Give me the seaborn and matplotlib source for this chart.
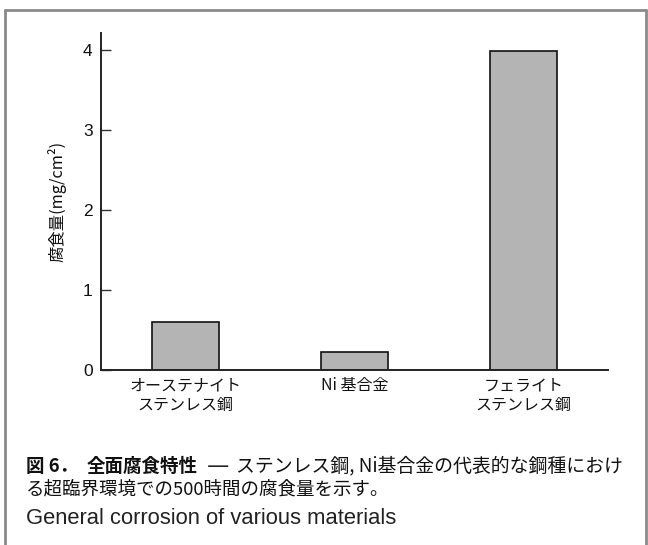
import matplotlib
matplotlib.use("Agg")
import matplotlib.pyplot as plt
import seaborn as sns
import pandas as pd
from matplotlib.lines import Line2D

categories = ["オーステナイト\nステンレス鋼", "Ni 基合金", "フェライト\nステンレス鋼"]
values = [0.60, 0.22, 3.98]
yticks = [0, 1, 2, 3, 4]

sns.set_theme(style="white")
plt.rcParams['font.family'] = ['Noto Sans CJK JP', 'DejaVu Sans']

W, H = 648, 545
fig = plt.figure(figsize=(W / 100, H / 100), dpi=100)

ax_l, ax_r, ax_t, ax_b = 101, 608, 33, 370
ax = fig.add_axes([ax_l / W, (H - ax_b) / H, (ax_r - ax_l) / W, (ax_b - ax_t) / H])

df = pd.DataFrame({"cat": categories, "val": values})
sns.barplot(data=df, x="cat", y="val", ax=ax, color="#b4b4b4", saturation=1,
            width=0.40, edgecolor="#111111", linewidth=1.2)

ax.set_xlim(-0.5, 2.5)
ax.set_ylim(0, 4.21)
ax.set_yticks(yticks)
ax.set_yticklabels([str(t) for t in yticks], fontsize=12.5, color="#111111",
                   family=["Liberation Sans", "DejaVu Sans"])
ax.tick_params(axis="y", direction="in", length=7.5, width=1.0, color="#333333", pad=6, left=True)
ax.tick_params(axis="x", length=0, pad=5, labelsize=11.5, labelcolor="#111111")
ax.set_xlabel("")
ax.set_ylabel("腐食量(mg/cm²)", fontsize=11.8, color="#111111", labelpad=12)
for s in ["top", "right"]:
    ax.spines[s].set_visible(False)
for s in ["left", "bottom"]:
    ax.spines[s].set_color("#222222")
    ax.spines[s].set_linewidth(1.4)

# outer frame (open at bottom)
fc = "#8a8a8a"
fig.add_artist(Line2D([4.5 / W, 4.5 / W], [0, 1 - 9.5 / H], color=fc, lw=2, transform=fig.transFigure))
fig.add_artist(Line2D([645.5 / W, 645.5 / W], [0, 1 - 9.5 / H], color=fc, lw=2, transform=fig.transFigure))
fig.add_artist(Line2D([4.5 / W, 645.5 / W], [1 - 9.5 / H, 1 - 9.5 / H], color=fc, lw=2, transform=fig.transFigure))

# caption
cs = 13.3
y1 = 1 - 466 / H
fig.text(26 / W, y1, "図 6．", fontsize=cs, fontweight="bold", va="center", ha="left", color="#111111")
fig.text(87 / W, y1, "全面腐食特性", fontsize=cs, fontweight="bold", va="center", ha="left", color="#111111")
fig.text(207 / W, y1, "—", fontsize=16, va="center", ha="left", color="#222222",
         family=["DejaVu Sans"])
fig.text(236 / W, y1, "ステンレス鋼, Ni基合金の代表的な鋼種におけ", fontsize=13.6,
         va="center", ha="left", color="#111111")
fig.text(26 / W, 1 - 490 / H, "る超臨界環境での500時間の腐食量を示す。", fontsize=cs,
         va="center", ha="left", color="#111111")
fig.text(26 / W, 1 - 518 / H, "General corrosion of various materials", fontsize=15.8,
         va="center", ha="left", color="#222222", family=["Liberation Sans", "DejaVu Sans"])

fig.savefig("out.png", dpi=100)
